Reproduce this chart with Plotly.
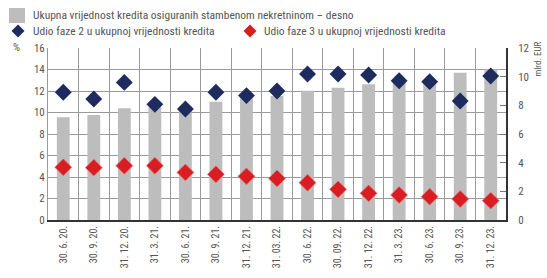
import plotly.graph_objects as go

categories = ["30. 6. 20.", "30. 9. 20.", "31. 12. 20.", "31. 3. 21.", "30. 6. 21.",
              "30. 9. 21.", "31. 12. 21.", "31. 03. 22.", "30. 6. 22.", "30. 09. 22.",
              "31. 12. 22.", "31. 3. 23.", "30. 6. 23.", "30. 9. 23.", "31. 12. 23."]
loans_value = [7.16, 7.33, 7.8, 7.86, 7.9, 8.25, 8.49, 8.65, 9.02, 9.23, 9.47, 9.65, 9.7, 10.28, 10.5]
stage2_share = [11.88, 11.26, 12.8, 10.76, 10.33, 11.88, 11.57, 12.0, 13.58, 13.58, 13.49, 12.96, 12.87, 11.07, 13.4]
stage3_share = [4.9, 4.87, 5.05, 5.05, 4.43, 4.25, 4.06, 3.87, 3.47, 2.85, 2.48, 2.33, 2.17, 1.95, 1.8]

left_ticks = [0, 2, 4, 6, 8, 10, 12, 14, 16]
right_ticks = [0, 2, 4, 6, 8, 10, 12]

legend_names = ["Ukupna vrijednost kredita osiguranih stambenom nekretninom – desno",
                "Udio faze 2 u ukupnoj vrijednosti kredita",
                "Udio faze 3 u ukupnoj vrijednosti kredita"]

FONT = "Liberation Sans Narrow, Arial Narrow, Roboto Condensed, DejaVu Sans Condensed, sans-serif"
TXT = "#555555"
GRAY = "#BDBDBD"
BLUE = "#1E2B5E"
RED = "#D81E22"

fig = go.Figure()
fig.add_trace(go.Bar(
    x=categories, y=loans_value, yaxis="y",
    name=legend_names[0],
    marker=dict(color=GRAY, line=dict(width=0)), width=0.42,
))
fig.add_trace(go.Scatter(
    x=categories, y=stage2_share, mode="markers", yaxis="y2",
    name=legend_names[1],
    marker=dict(symbol="diamond", size=13, color=BLUE),
))
fig.add_trace(go.Scatter(
    x=categories, y=stage3_share, mode="markers", yaxis="y2",
    name=legend_names[2],
    marker=dict(symbol="diamond", size=13, color=RED,
                line=dict(color="rgba(236,110,110,0.7)", width=1)),
))

# plot area in pixels: left 48, right 506, top 48, bottom 220
L, R, T, B = 48, 506, 48, 220
def px(x):
    return (x - L) / (R - L)
def py(y):
    return (B - y) / (B - T)

def diamond(cx, cy, h=6.5):
    x0, x1 = px(cx - h), px(cx + h)
    xc = px(cx)
    y0, y1 = py(cy + h), py(cy - h)
    yc = py(cy)
    return f"M {xc} {y1} L {x1} {yc} L {xc} {y0} L {x0} {yc} Z"

shapes = [
    dict(type="rect", xref="paper", yref="paper", x0=px(9), x1=px(25), y0=py(23), y1=py(8),
         fillcolor=GRAY, line=dict(width=0)),
    dict(type="path", xref="paper", yref="paper", path=diamond(18, 31),
         fillcolor=BLUE, line=dict(width=0)),
    dict(type="path", xref="paper", yref="paper", path=diamond(250, 31),
         fillcolor=RED, line=dict(width=0)),
]

fig.update_layout(
    width=547, height=278,
    margin=dict(l=L, r=547 - R, t=T, b=278 - B, autoexpand=False),
    paper_bgcolor="white", plot_bgcolor="white",
    font=dict(family=FONT, size=11, color=TXT),
    showlegend=False,
    xaxis=dict(
        type="category", tickangle=-90, tickson="boundaries", automargin=False,
        showgrid=True, gridcolor="#9A9A9A", gridwidth=1,
        showline=True, linecolor="#333333", linewidth=2,
        ticks="", tickfont=dict(size=10, color=TXT),
        range=[-0.5, len(categories) - 0.5],
    ),
    yaxis=dict(
        range=[0, 12], tickvals=right_ticks, side="right", automargin=False,
        showgrid=False, zeroline=False,
        showline=True, linecolor="#333333", linewidth=2,
        ticks="inside", ticklen=6, tickcolor="#777777",
        tickfont=dict(size=11, color=TXT), ticklabelstandoff=8,
    ),
    yaxis2=dict(
        range=[0, 16], tickvals=left_ticks, overlaying="y", side="left", automargin=False,
        showgrid=True, gridcolor="#9A9A9A", gridwidth=1,
        showline=True, linecolor="#9A9A9A", linewidth=1,
        zeroline=False, ticks="", tickfont=dict(size=11, color=TXT),
    ),
    shapes=shapes,
    annotations=[
        dict(text=legend_names[0], xref="paper", yref="paper", x=px(31), y=py(15),
             xanchor="left", yanchor="middle", showarrow=False, font=dict(size=11.5, color=TXT)),
        dict(text=legend_names[1], xref="paper", yref="paper", x=px(31), y=py(31),
             xanchor="left", yanchor="middle", showarrow=False, font=dict(size=11.5, color=TXT)),
        dict(text=legend_names[2], xref="paper", yref="paper", x=px(262), y=py(31),
             xanchor="left", yanchor="middle", showarrow=False, font=dict(size=11.5, color=TXT)),
        dict(text="%", xref="paper", yref="paper", x=px(11), y=py(47), xanchor="left",
             yanchor="middle", showarrow=False, font=dict(size=11, color=TXT)),
        dict(text="mlrd. EUR", xref="paper", yref="paper", x=px(538), y=py(40),
             xanchor="center", yanchor="top", textangle=-90, showarrow=False,
             font=dict(size=9, color=TXT)),
    ],
)

fig.write_html("out.html",
               config={"displayModeBar": False},
               post_script="document.body.style.margin='0';document.body.style.padding='0';")
